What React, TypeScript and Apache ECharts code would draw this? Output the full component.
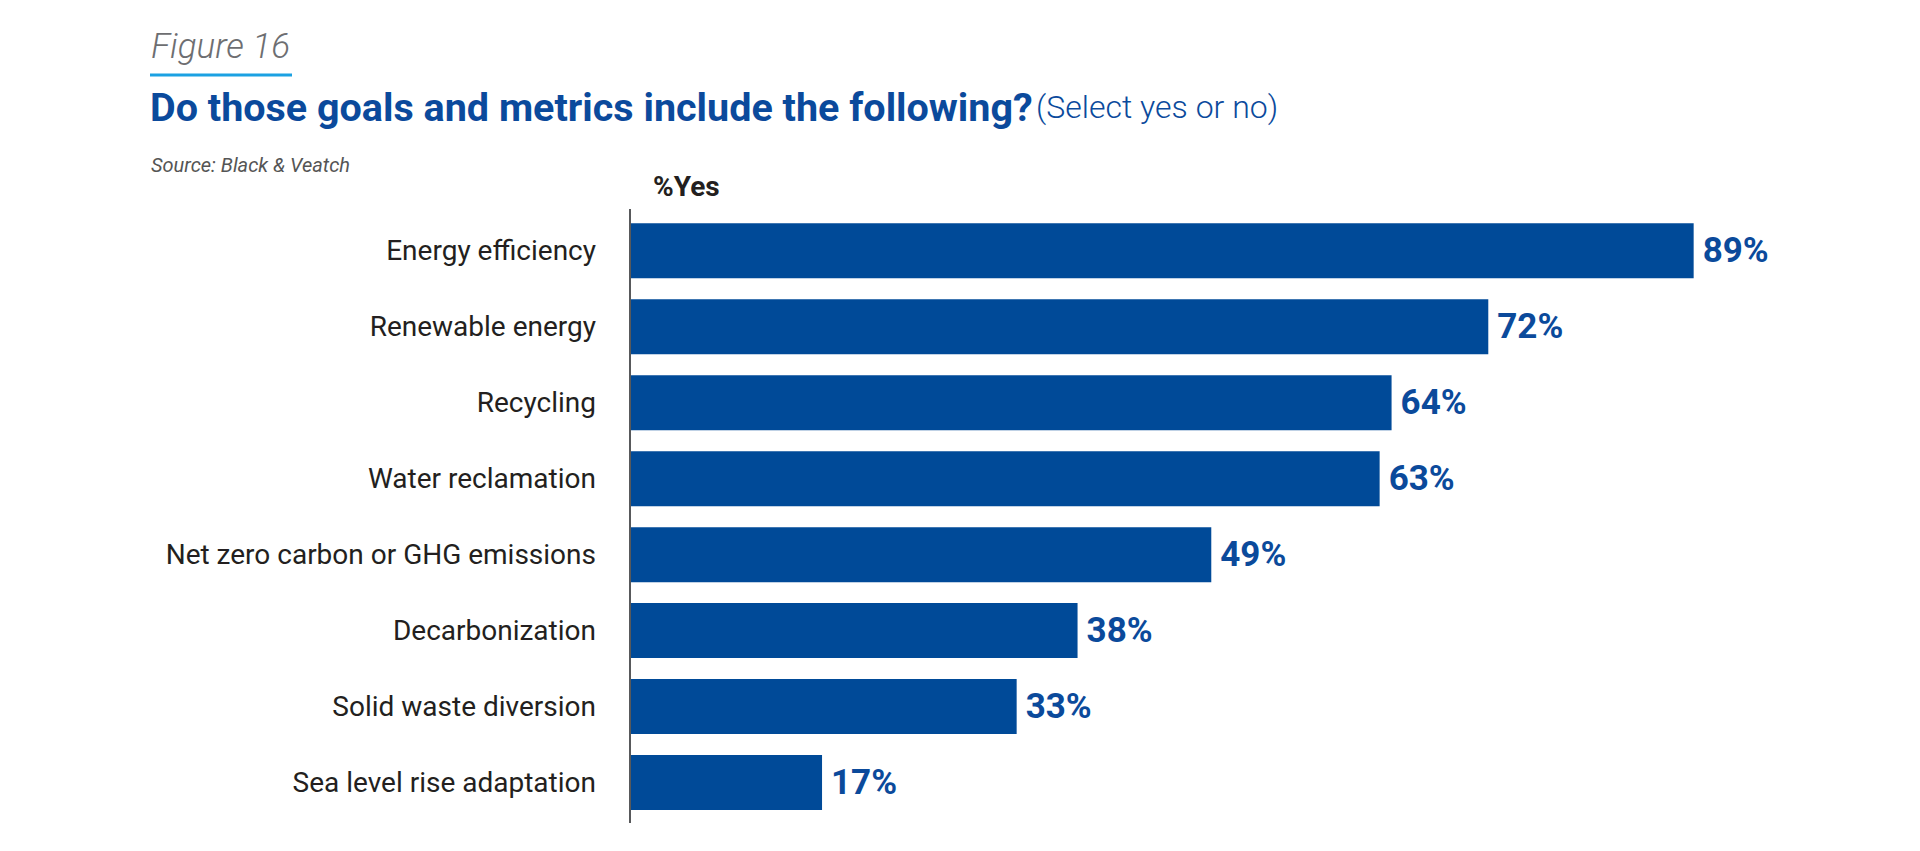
import React, { useEffect, useRef } from "react";
import * as echarts from "echarts";

const categories = [
  "Energy efficiency",
  "Renewable energy",
  "Recycling",
  "Water reclamation",
  "Net zero carbon or GHG emissions",
  "Decarbonization",
  "Solid waste diversion",
  "Sea level rise adaptation",
];
const yesValues = [89, 71.8, 63.7, 62.7, 48.6, 37.4, 32.3, 16.0];
const yesLabels = ["89%", "72%", "64%", "63%", "49%", "38%", "33%", "17%"];

const FONT = "Roboto, 'Noto Sans', sans-serif";

export default function App() {
  const ref = useRef<HTMLDivElement>(null);
  useEffect(() => {
    if (!ref.current) return;
    const chart = echarts.init(ref.current, null, { renderer: "svg" });
    chart.setOption({
      animation: false,
      backgroundColor: "#ffffff",
      grid: { left: 631, width: 1194, top: 212.8, height: 607.7, containLabel: false },
      xAxis: { type: "value", min: 0, max: 100, show: false },
      yAxis: {
        type: "category",
        inverse: true,
        data: categories,
        axisLine: { show: false },
        axisTick: { show: false },
        splitLine: { show: false },
        axisLabel: {
          margin: 35,
          fontSize: 28,
          fontFamily: FONT,
          color: "#231f20",
        },
      },
      series: [
        {
          type: "bar",
          data: yesValues,
          barWidth: 55,
          itemStyle: { color: "#004a98" },
          label: {
            show: true,
            position: "right",
            distance: 9,
            fontSize: 35,
            fontWeight: "bold",
            fontFamily: FONT,
            color: "#0b4a9b",
            formatter: (p: any) => yesLabels[p.dataIndex],
          },
        },
      ],
      graphic: [
        {
          type: "text",
          left: 151,
          top: 29,
          style: {
            text: "Figure 16",
            fontSize: 35,
            fontStyle: "italic",
            fontWeight: 300,
            fontFamily: FONT,
            fill: "#6d6e71",
          },
        },
        {
          type: "rect",
          shape: { x: 150, y: 73.5, width: 142, height: 3 },
          style: { fill: "#1ba1e2" },
        },
        {
          type: "text",
          left: 150,
          top: 87,
          style: {
            rich: {
              b: { fontSize: 39.5, fontWeight: "bold", fontFamily: FONT, fill: "#0b4a9c" },
              l: { fontSize: 32, fontWeight: 300, fontFamily: FONT, fill: "#0b4a9c" },
            },
            text: "{b|Do those goals and metrics include the following?} {l|(Select yes or no)}",
          },
        },
        {
          type: "text",
          left: 151,
          top: 155,
          style: {
            text: "Source: Black & Veatch",
            fontSize: 20,
            fontStyle: "italic",
            fontFamily: FONT,
            fill: "#555555",
          },
        },
        {
          type: "text",
          left: 653,
          top: 172,
          style: {
            text: "%Yes",
            fontSize: 28,
            fontWeight: "bold",
            fontFamily: FONT,
            fill: "#231f20",
          },
        },
        {
          type: "line",
          shape: { x1: 630, y1: 209, x2: 630, y2: 823 },
          style: { stroke: "#58595b", lineWidth: 2 },
        },
      ],
    });
    return () => chart.dispose();
  }, []);
  return (
    <div
      ref={ref}
      style={{ position: "fixed", left: 0, top: 0, width: 1920, height: 851 }}
    />
  );
}
